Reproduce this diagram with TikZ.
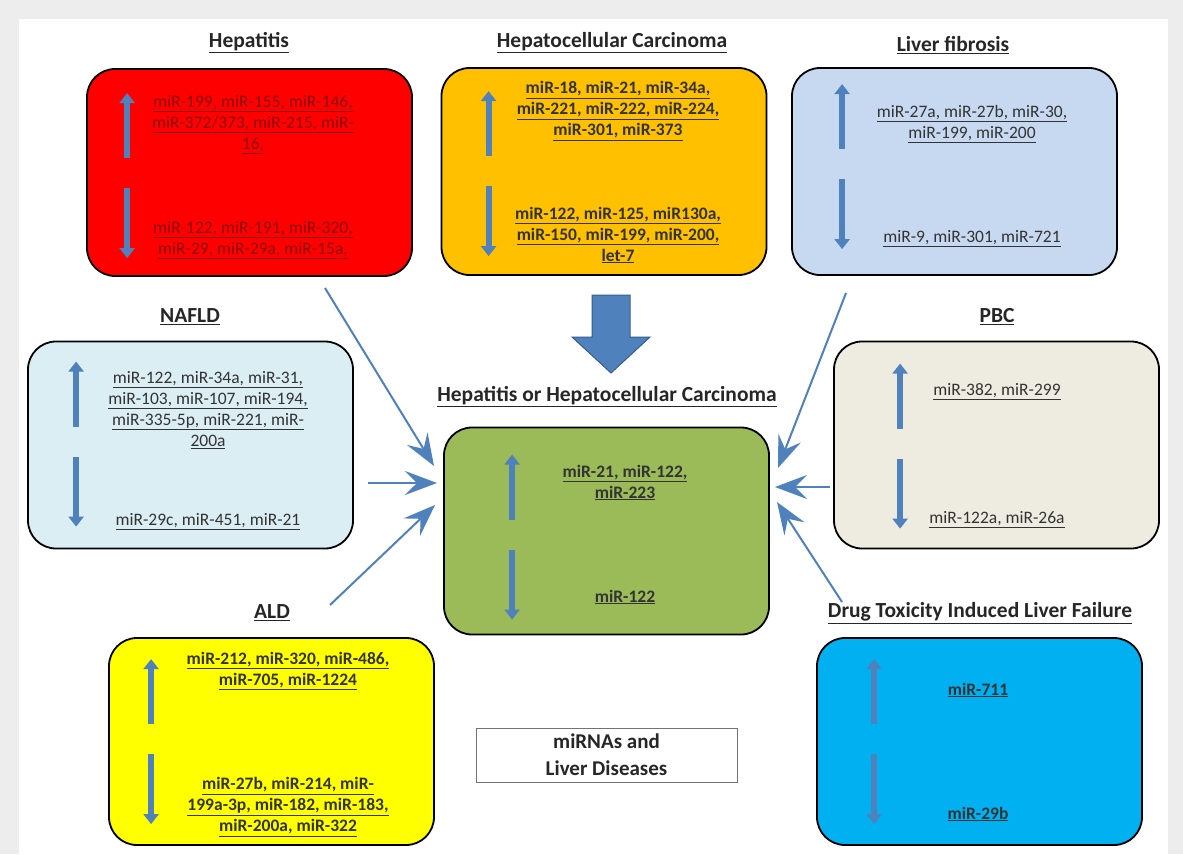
\documentclass[tikz,border=0pt]{standalone}
\usepackage{fontspec}
\setmainfont{Carlito}
\usetikzlibrary{arrows.meta}

\definecolor{bggray}{HTML}{EDEDED}
\definecolor{arrblue}{HTML}{4F81BD}
\definecolor{arrdark}{HTML}{385D8A}
\definecolor{hepred}{HTML}{FF0000}
\definecolor{hepfont}{HTML}{8B0000}
\definecolor{hccorange}{HTML}{FFC000}
\definecolor{lfblue}{HTML}{C6D9F1}
\definecolor{nafldblue}{HTML}{DBEEF4}
\definecolor{ctrgreen}{HTML}{9BBB59}
\definecolor{pbcbeige}{HTML}{EEECE1}
\definecolor{aldyellow}{HTML}{FFFF00}
\definecolor{drugblue}{HTML}{00B0F0}

\newcommand{\und}[1]{\underline{#1}}
\newcommand{\updown}[3]{%
        \draw[updn] ([shift={(#2,#3+65)}]#1.north west) -- ([shift={(#2,#3)}]#1.north west);
        \draw[updn] ([shift={(#2,#3+95)}]#1.north west) -- ([shift={(#2,#3+165)}]#1.north west);
}

\tikzset{
        disease/.style={draw=black, line width=1.8pt, rounded corners=28pt, minimum width=325pt, minimum height=207pt, inner sep=0pt},
        ttl/.style={font=\fontsize{21.5}{25}\selectfont\bfseries, text=black!85},
        mirs/.style={align=center, font=\fontsize{17.5}{21}\selectfont, text=black!80},
        mirsb/.style={mirs, font=\fontsize{17.5}{21}\selectfont\bfseries},
        updn/.style={draw=arrblue, line width=6pt, -{Triangle[length=10pt,width=15pt]}},
        conn/.style={draw=arrblue, line width=2pt, -{Stealth[length=32pt,width=24pt,inset=12pt]}},
}

\begin{document}
\begin{tikzpicture}[x=1pt, y=-1pt]
        \useasboundingbox (0,0) rectangle (1183,854);
        \fill[bggray] (0,0) rectangle (1183,854);
        \fill[white] (19,19) rectangle (1168,854);

        \node[disease, fill=hepred] (hep) at (249.5,172.5) {};
        \node[ttl] (hepttl) at (249,43) {\und{Hepatitis}};
        \node[mirs, text=hepfont] (hepup) at (253,125) {\und{miR-199, miR-155, miR-146,}\\\und{miR-372/373, miR-215, miR-}\\\und{16,}};
        \node[mirs, text=hepfont] (hepdn) at (253,240) {\und{miR-122, miR-191, miR-320,}\\\und{miR-29, miR-29a, miR-15a,}};
        \updown{hep}{41}{25}

        \node[disease, fill=hccorange] (hcc) at (604,171.5) {};
        \node[ttl] (hccttl) at (612,43) {\und{Hepatocellular Carcinoma}};
        \node[mirsb] (hccup) at (618,111) {\und{miR-18, miR-21, miR-34a,}\\\und{miR-221, miR-222, miR-224,}\\\und{miR-301, miR-373}};
        \node[mirsb] (hccdn) at (618,235) {\und{miR-122, miR-125, miR130a,}\\\und{miR-150, miR-199, miR-200,}\\\und{let-7}};
        \updown{hcc}{48}{24}

        \node[disease, fill=lfblue] (lf) at (954.5,171.5) {};
        \node[ttl] (lfttl) at (953,45) {\und{Liver fibrosis}};
        \node[mirs] (lfup) at (972,124) {\und{miR-27a, miR-27b, miR-30,}\\\und{miR-199, miR-200}};
        \node[mirs] (lfdn) at (972,239) {\und{miR-9, miR-301, miR-721}};
        \updown{lf}{51}{17}

        \node[disease, fill=nafldblue] (nafld) at (190.5,445) {};
        \node[ttl] (nafldttl) at (190,317) {\und{NAFLD}};
        \node[mirs] (nafldup) at (208,410) {\und{miR-122, miR-34a, miR-31,}\\\und{miR-103, miR-107, miR-194,}\\\und{miR-335-5p, miR-221, miR-}\\\und{200a}};
        \node[mirs] (naflddn) at (208,522) {\und{miR-29c, miR-451, miR-21}};
        \updown{nafld}{49}{21}

        \node[disease, fill=ctrgreen] (ctr) at (606.5,531) {};
        \node[ttl] (ctrttl) at (607,397) {\und{Hepatitis or Hepatocellular Carcinoma}};
        \node[mirsb] (ctrup) at (625,482.5) {\und{miR-21, miR-122,}\\\und{miR-223}};
        \node[mirsb] (ctrdn) at (625,597) {\und{miR-122}};
        \updown{ctr}{69}{28}

        \node[disease, fill=pbcbeige] (pbc) at (996.5,445) {};
        \node[ttl] (pbcttl) at (997,317) {\und{PBC}};
        \node[mirs] (pbcup) at (997,392) {\und{miR-382, miR-299}};
        \node[mirs] (pbcdn) at (997,520) {\und{miR-122a, miR-26a}};
        \updown{pbc}{67}{23}

        \node[disease, fill=aldyellow] (ald) at (271.5,741.5) {};
        \node[ttl] (aldttl) at (272,613) {\und{ALD}};
        \node[mirsb] (aldup) at (288,671) {\und{miR-212, miR-320, miR-486,}\\\und{miR-705, miR-1224}};
        \node[mirsb] (alddn) at (288,807) {\und{miR-27b, miR-214, miR-}\\\und{199a-3p, miR-182, miR-183,}\\\und{miR-200a, miR-322}};
        \updown{ald}{43}{22}

        \node[disease, fill=drugblue] (drug) at (979.5,741.5) {};
        \node[ttl] (drugttl) at (980,613) {\und{Drug Toxicity Induced Liver Failure}};
        \node[mirsb] (drugup) at (978,690) {\und{miR-711}};
        \node[mirsb] (drugdn) at (978,814) {\und{miR-29b}};
        \updown{drug}{58}{22}

        \node[draw=black!55, line width=1pt, minimum width=261pt, minimum height=54pt, align=center,
              font=\fontsize{21}{27}\selectfont\bfseries, text=black!85] (key) at (606.5,755) {miRNAs and\\Liver Diseases};

        \draw[fill=arrblue, draw=arrdark, line width=1pt] (592,295) -- (630,295) -- (630,337) -- (650,337)
              -- (611,373) -- (572,337) -- (592,337) -- cycle;

        \coordinate (hepout) at (325,288);
        \coordinate (hepin) at (434,466);
        \coordinate (nafldout) at (368,483);
        \coordinate (nafldin) at (437,483);
        \coordinate (aldout) at (330,605);
        \coordinate (aldin) at (435,505);
        \coordinate (lfout) at (846,293);
        \coordinate (lfin) at (778,468);
        \coordinate (pbcout) at (830,487);
        \coordinate (pbcin) at (775,487);
        \coordinate (drugout) at (842,602);
        \coordinate (drugin) at (777,502);
        \draw[conn] (hepout) -- (hepin);
        \draw[conn] (nafldout) -- (nafldin);
        \draw[conn] (aldout) -- (aldin);
        \draw[conn] (lfout) -- (lfin);
        \draw[conn] (pbcout) -- (pbcin);
        \draw[conn] (drugout) -- (drugin);
\end{tikzpicture}
\end{document}
